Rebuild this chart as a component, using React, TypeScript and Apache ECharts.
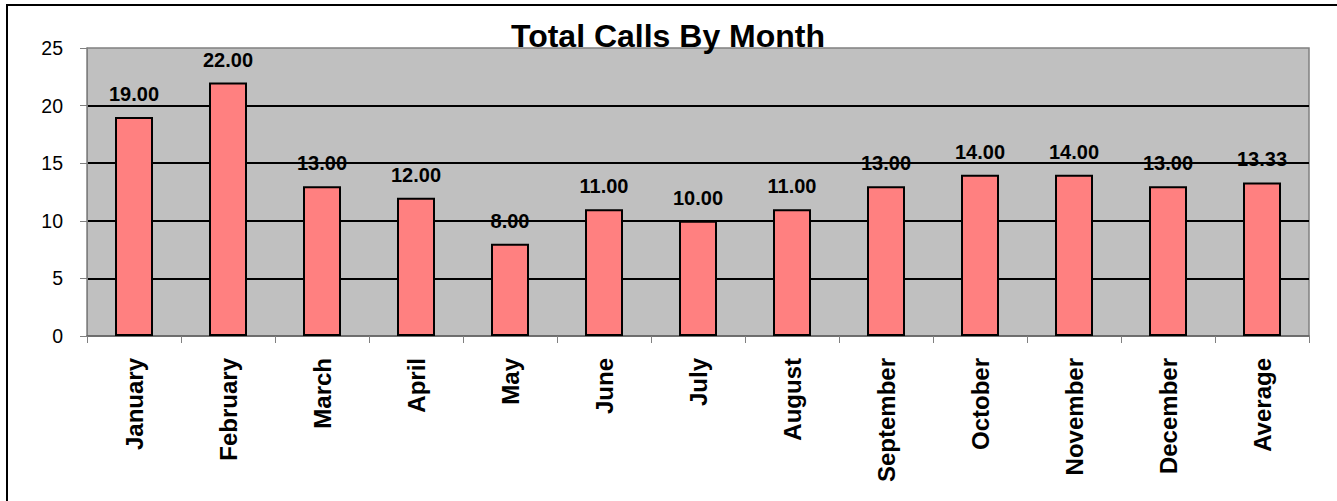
import React, { useEffect, useRef } from "react";
import * as echarts from "echarts";

const categories = [
  "January", "February", "March", "April", "May", "June", "July",
  "August", "September", "October", "November", "December", "Average",
];
const totalCalls = [19, 22, 13, 12, 8, 11, 10, 11, 13, 14, 14, 13, 13.33];
const yTicks = { min: 0, max: 25, interval: 5 };
const titleText = "Total Calls By Month";

const FONT = "'Liberation Sans', Arial, Helvetica, sans-serif";

export default function App() {
  const ref = useRef<HTMLDivElement>(null);
  useEffect(() => {
    if (!ref.current) return;
    const chart = echarts.init(ref.current, null, { renderer: "svg" });
    chart.setOption({
      animation: false,
      backgroundColor: "#ffffff",
      textStyle: { fontFamily: FONT },
      grid: {
        left: 87,
        right: 28,
        top: 48,
        bottom: 165,
        show: true,
        backgroundColor: "#C0C0C0",
        borderColor: "#808080",
        borderWidth: 1.5,
      },
      xAxis: {
        type: "category",
        data: categories,
        boundaryGap: true,
        axisLine: { show: true, lineStyle: { color: "#606060", width: 1.5 } },
        axisTick: { show: true, length: 7, lineStyle: { color: "#808080", width: 1 } },
        axisLabel: {
          rotate: 90,
          margin: 22,
          fontSize: 24,
          fontWeight: "bold",
          color: "#000000",
          fontFamily: FONT,
          interval: 0,
        },
      },
      yAxis: {
        type: "value",
        min: yTicks.min,
        max: yTicks.max,
        interval: yTicks.interval,
        axisLine: { show: true, lineStyle: { color: "#808080", width: 1 } },
        axisTick: { show: true, length: 7, lineStyle: { color: "#808080", width: 1 } },
        axisLabel: {
          margin: 24,
          fontSize: 19.5,
          color: "#000000",
          fontFamily: FONT,
        },
        splitLine: {
          show: true,
          showMinLine: false,
          showMaxLine: false,
          lineStyle: { color: "#000000", width: 2 },
        },
      },
      series: [
        {
          type: "bar",
          data: totalCalls,
          barWidth: 38,
          itemStyle: { color: "#FF8080", borderColor: "#000000", borderWidth: 2 },
          label: {
            show: true,
            position: "top",
            distance: 13,
            fontSize: 20,
            fontWeight: "bold",
            color: "#000000",
            fontFamily: FONT,
            formatter: (p: any) => Number(p.value).toFixed(2),
          },
        },
      ],
      graphic: [
        {
          type: "rect",
          shape: { x: 7, y: 5, width: 1345, height: 510 },
          style: { fill: "none", stroke: "#000000", lineWidth: 2 },
          silent: true,
          z: 100,
        },
        {
          type: "text",
          x: 668,
          y: 36,
          style: {
            text: titleText,
            fontSize: 32,
            fontWeight: "bold",
            fontFamily: FONT,
            fill: "#000000",
            align: "center",
            verticalAlign: "middle",
          },
          z: 100,
        },
      ],
    });
    return () => chart.dispose();
  }, []);
  return (
    <div
      ref={ref}
      style={{ position: "absolute", left: 0, top: 0, width: 1337, height: 501 }}
    />
  );
}
